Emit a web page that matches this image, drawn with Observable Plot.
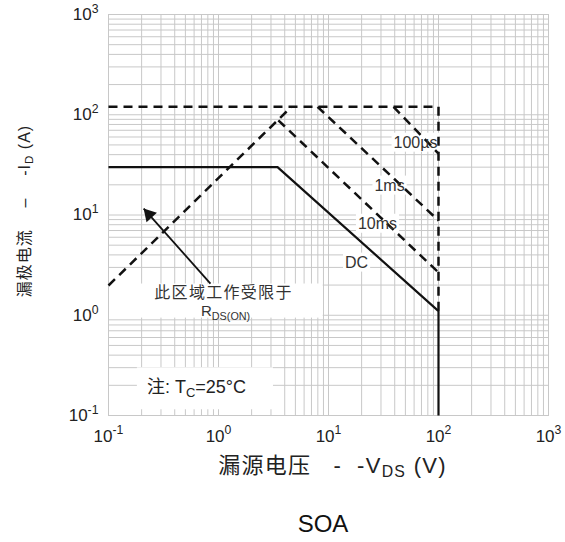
<!DOCTYPE html>
<html><head><meta charset="utf-8">
<script src="https://cdn.jsdelivr.net/npm/d3@7"></script>
<script src="https://cdn.jsdelivr.net/npm/@observablehq/plot@0.6"></script>
<style>
body{margin:0;background:#fff}
svg{display:block}
#cap{font:24px "Liberation Sans",Arial,sans-serif;color:#111;width:565px;box-sizing:border-box;padding-left:81px;padding-top:20px;text-align:center;line-height:28px}
</style>
</head><body><div id="chart"></div><div id="cap">SOA</div>
<script>
// ---- data ----
const tickVals = [0.1, 1, 10, 100, 1000];
const dcV = [0.1, 3.44, 100, 100];
const dcI = [30, 30, 1.1, 0.1];
const limV = [0.1, 100, 100];
const limI = [120, 120, 1.1];
const rdsV = [0.1, 4.6];
const rdsI = [1.98, 120];
const ms10V = [3.5, 100];
const ms10I = [88, 2.67];
const ms1V = [7.95, 100];
const ms1I = [120, 8.8];
const us100V = [39, 100];
const us100I = [120, 41];
const curveNames = ["100µs", "1ms", "10ms", "DC"];
const curveLabelV = [61.8, 35.9, 27.9, 18.0];
const curveLabelI = [52.8, 19.7, 8.2, 3.36];
const annoText = ["此区域工作受限于", "R_{DS(ON)}"];
const annoV = [1.11, 1.16];
const annoI = [1.69, 1.09];
const arrowFrom = {V: 0.845, I: 2.07};
const arrowTo = {V: 0.209, I: 11.6};
const noteText = ["注: T_{C}=25°C"];
const noteV = [0.63];
const noteI = [0.19];
const yTitle = "漏极电流\u00a0\u00a0\u00a0\u00a0–\u00a0\u00a0\u00a0\u00a0-I_{D} (A)";
const xTitle = "漏源电压\u00a0\u00a0\u00a0-\u00a0\u00a0-V_{DS} (V)";

// ---- helpers ----
const pts = (xs, ys) => xs.map((x, i) => ({x, y: ys[i]}));
const gridVals = d3.range(-1, 3).flatMap(e => d3.range(1, 10).map(k => k * 10 ** e)).concat([1000]);
const fmt = d => "10^{" + Math.round(Math.log10(d)) + "}";
const dash = {stroke: "#111", strokeWidth: 2.5, strokeDasharray: "9,6", strokeLinecap: "butt"};

const plot = Plot.plot({
  width: 565, height: 490,
  marginLeft: 108, marginRight: 17, marginTop: 14, marginBottom: 75,
  style: {fontFamily: '"Liberation Sans", Arial, "Noto Sans CJK SC", sans-serif', fontSize: "17px", color: "#222", background: "#fff"},
  x: {type: "log", domain: [0.1, 1000], ticks: tickVals, tickFormat: fmt, tickSize: 0, tickPadding: 14, label: null},
  y: {type: "log", domain: [0.1, 1000], ticks: tickVals, tickFormat: fmt, tickSize: 0, tickPadding: 10, label: null},
  marks: [
    Plot.ruleX(gridVals, {stroke: "#c8c8c8", strokeWidth: 1}),
    Plot.ruleY(gridVals, {stroke: "#c8c8c8", strokeWidth: 1}),
    Plot.frame({stroke: "#c8c8c8", ariaDescription: "frame-box"}),
    Plot.line(pts(rdsV, rdsI), {x: "x", y: "y", ...dash}),
    Plot.line(pts(limV, limI), {x: "x", y: "y", ...dash}),
    Plot.line(pts(ms10V, ms10I), {x: "x", y: "y", ...dash}),
    Plot.line(pts(ms1V, ms1I), {x: "x", y: "y", ...dash}),
    Plot.line(pts(us100V, us100I), {x: "x", y: "y", ...dash}),
    Plot.line(pts(dcV, dcI), {x: "x", y: "y", stroke: "#111", strokeWidth: 2.2, strokeLinecap: "butt"}),
    Plot.link([0], {x1: () => arrowFrom.V, y1: () => arrowFrom.I, x2: () => arrowTo.V, y2: () => arrowTo.I, stroke: "#111", strokeWidth: 1.8}),
    Plot.dot([0], {x: () => arrowTo.V, y: () => arrowTo.I, symbol: "triangle", r: 5.2, fill: "#111", stroke: "none", rotate: -42, dx: 5.3, dy: 6}),
    Plot.text(curveNames, {x: (d, i) => curveLabelV[i], y: (d, i) => curveLabelI[i], text: d => d, fontSize: 16, fill: "#333", ariaDescription: "curve-label"}),
    Plot.text(annoText, {x: (d, i) => annoV[i], y: (d, i) => annoI[i], text: d => d, fontSize: (d, i) => i === 0 ? 16 : 15, fill: "#333", ariaDescription: "annotation"}),
    Plot.text(noteText, {x: (d, i) => noteV[i], y: (d, i) => noteI[i], text: d => d, fontSize: 18, fill: "#222", ariaDescription: "note"}),
    Plot.text([yTitle], {frameAnchor: "left", textAnchor: "middle", lineAnchor: "middle", dx: -84, dy: -4, rotate: -90, text: d => d, fontSize: 16, fill: "#222", ariaDescription: "y-title"}),
    Plot.text([xTitle], {frameAnchor: "bottom", textAnchor: "middle", lineAnchor: "middle", dx: 4, dy: 50, text: d => d, fontSize: 22, fill: "#222", ariaDescription: "x-title"})
  ]
});

document.getElementById("chart").append(plot);
const NS = "http://www.w3.org/2000/svg";
const sel = d => [...plot.querySelectorAll(`g[aria-description="${d}"] text`)];

function richify(root) {
  root.querySelectorAll("text").forEach(t => {
    const s = t.textContent;
    if (!/[\^_]\{/.test(s)) return;
    const fs = parseFloat(getComputedStyle(t).fontSize) || 16;
    while (t.firstChild) t.removeChild(t.firstChild);
    let shift = 0;
    s.split(/([\^_]\{[^}]*\})/).forEach(p => {
      if (!p) return;
      const ts = document.createElementNS(NS, "tspan");
      let target = 0, content = p;
      if (/^[\^_]\{/.test(p)) {
        target = p[0] === "^" ? -0.42 * fs : 0.22 * fs;
        content = p.slice(2, -1);
        ts.setAttribute("font-size", (0.72 * fs) + "px");
      }
      if (target !== shift) { ts.setAttribute("dy", target - shift); shift = target; }
      ts.textContent = content;
      t.appendChild(ts);
    });
  });
}
richify(plot);

sel("x-title").forEach(t => t.style.letterSpacing = "1.3px");
sel("y-title").forEach(t => t.style.letterSpacing = "1px");
sel("annotation").forEach((t, i) => { if (i === 0) t.style.letterSpacing = "1.3px"; });

// white label boxes (drawn over the grid, under the curves)
const svgRect = plot.getBoundingClientRect();
const boxG = document.createElementNS(NS, "g");
const specs = [
  {label: "curve-label", each: true, pad: [2, 2, 1, 1]},
  {label: "annotation", each: false, pad: [46, 30, 0, -4]},
  {label: "note", each: false, pad: [10, 27, 10, 9]}
];
for (const sp of specs) {
  const rects = sel(sp.label).map(t => t.getBoundingClientRect());
  const groups = sp.each ? rects.map(r => [r]) : [rects];
  for (const g of groups) {
    if (!g.length) continue;
    const x0 = Math.max(d3.min(g, r => r.left) - svgRect.left - sp.pad[0], 108.5);
    const x1 = d3.max(g, r => r.right) - svgRect.left + sp.pad[1];
    const y0 = d3.min(g, r => r.top) - svgRect.top - sp.pad[2];
    const y1 = d3.max(g, r => r.bottom) - svgRect.top + sp.pad[3];
    const rc = document.createElementNS(NS, "rect");
    rc.setAttribute("x", x0); rc.setAttribute("y", y0);
    rc.setAttribute("width", x1 - x0); rc.setAttribute("height", y1 - y0);
    rc.setAttribute("fill", "#fff");
    boxG.appendChild(rc);
  }
}
const frameEl = plot.querySelector('g[aria-description="frame-box"]') || plot.querySelector('[aria-label="frame"]');
frameEl.parentNode.insertBefore(boxG, frameEl);
</script></body></html>
